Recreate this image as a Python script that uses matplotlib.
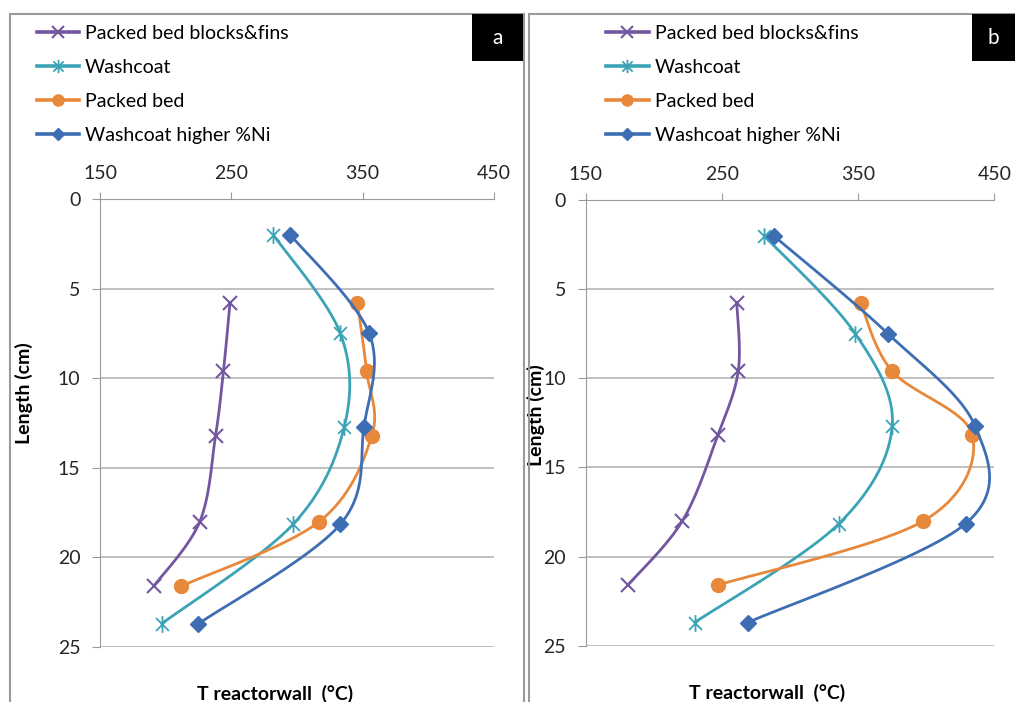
#importing modules
import numpy as np
from matplotlib import pyplot as plt
from matplotlib.path import Path
from matplotlib.patches import Rectangle

plt.rcParams['font.family'] = ['Lato', 'DejaVu Sans']

#reactor wall temperature profiles (deg C) vs length (cm)
labels = ['Packed bed blocks&fins', 'Washcoat', 'Packed bed', 'Washcoat higher %Ni']
len_bed = [5.8, 9.6, 13.2, 18.0, 21.6]
len_wash = [2.0, 7.5, 12.7, 18.15, 23.7]

T_fins_a = [249, 244, 238, 226, 191]
T_wash_a = [282, 333, 336, 297, 197]
T_bed_a = [346, 353, 357, 317, 212]
T_ni_a = [295, 355, 351, 333, 225]

T_fins_b = [261, 262, 247, 221, 181]
T_wash_b = [281, 348, 375, 336, 230]
T_bed_b = [352, 375, 434, 398, 247]
T_ni_b = [288, 372, 436, 429, 269]

colors = ['#7356a0', '#3aa3b5', '#e8883a', '#3d6eb4']

#star marker: an x with a vertical bar
star = Path([(-1, -1), (1, 1), (-1, 1), (1, -1), (0, -1.3), (0, 1.3)],
            [Path.MOVETO, Path.LINETO, Path.MOVETO, Path.LINETO, Path.MOVETO, Path.LINETO])
markers = [dict(marker='x', ms=10, mew=1.5),
           dict(marker=star, ms=12, mew=1.3),
           dict(marker='o', ms=10),
           dict(marker='D', ms=8)]


def smooth(x, y, sx, sy, n=30):
    #bezier smoothing between points, worked out in screen-like units
    px = np.asarray(x, float) * sx
    py = np.asarray(y, float) * sy
    P = np.column_stack([px, py])
    P = np.vstack([P[0], P, P[-1]])
    out = []
    t = np.linspace(0, 1, n)[:, None]
    for i in range(1, len(P) - 2):
        p0, p1, p2, p3 = P[i - 1], P[i], P[i + 1], P[i + 2]
        c1 = p1 + (p2 - p0) / 6
        c2 = p2 - (p3 - p1) / 6
        seg = ((1 - t) ** 3) * p1 + 3 * ((1 - t) ** 2) * t * c1 + 3 * (1 - t) * t ** 2 * c2 + t ** 3 * p2
        out.append(seg)
    out = np.vstack(out)
    return out[:, 0] / sx, out[:, 1] / sy


fig = plt.figure(figsize=(10.15, 7.02), dpi=100)

panels = [
    ('a', [0.0985, 0.0783, 0.3882, 0.6382], [T_fins_a, T_wash_a, T_bed_a, T_ni_a],
     (-0.17, 0.567), (0.036, 0.965)),
    ('b', [0.577, 0.0802, 0.4026, 0.6348], [T_fins_b, T_wash_b, T_bed_b, T_ni_b],
     (-0.10, 0.518), (0.597, 0.965)),
]

for tag, rect, series, ylab_pos, leg_pos in panels:
    ax = fig.add_axes(rect)
    ys = [len_bed, len_wash, len_bed, len_wash]
    for i, (T, L) in enumerate(zip(series, ys)):
        xs, yy = smooth(T, L, 1.315, 17.9)
        ax.plot(xs, yy, color=colors[i], lw=2.0, solid_capstyle='round')
        ax.plot(T, L, ls='none', color=colors[i], mfc=colors[i], mec=colors[i], **markers[i])
        ax.plot([], [], color=colors[i], lw=2.6, label=labels[i], **markers[i])
    ax.set_xlim(150, 450)
    ax.set_ylim(25, 0)
    ax.set_xticks([150, 250, 350, 450])
    ax.set_yticks([0, 5, 10, 15, 20, 25])
    ax.xaxis.tick_top()
    ax.tick_params(axis='x', direction='out', length=5, color='#9a9a9a', pad=7,
                   labelsize=14, labelcolor='#262626')
    ax.tick_params(axis='y', direction='out', length=6, color='#9a9a9a', pad=8,
                   labelsize=14, labelcolor='#262626')
    for s in ['right', 'bottom']:
        ax.spines[s].set_visible(False)
    for s in ['left', 'top']:
        ax.spines[s].set_color('#9a9a9a')
    ax.yaxis.grid(True, color='#b4b4b4', lw=1.2)
    ax.set_axisbelow(True)
    ax.set_ylabel('Length (cm)', fontsize=14, fontweight='bold')
    ax.yaxis.set_label_coords(*ylab_pos)
    ax.set_xlabel('T reactorwall  (°C)', fontsize=14, fontweight='bold')
    ax.xaxis.set_label_position('bottom')
    ax.xaxis.set_label_coords(0.444, -0.085)
    fig.legend(*ax.get_legend_handles_labels(), loc='upper left', bbox_to_anchor=leg_pos,
               frameon=False, fontsize=14, handlelength=2.2, handletextpad=0.3,
               labelspacing=0.88, borderaxespad=0, borderpad=0, markerscale=0.8)

#panel frames and tag boxes (pixel units)
W, H = 1015, 702
for x0, x1 in [(10, 524), (529, 1030)]:
    fig.add_artist(Rectangle((x0 / W, -0.05), (x1 - x0) / W, (H - 14) / H + 0.05,
                             transform=fig.transFigure, fill=False, ec='#9a9a9a', lw=1.5))
for tag, x0, x1 in [('a', 472, 523), ('b', 972, 1015)]:
    fig.add_artist(Rectangle((x0 / W, 1 - 61 / H), (x1 - x0) / W, 47 / H,
                             transform=fig.transFigure, fc='black', ec='none'))
    fig.text((x0 + x1) / 2 / W, 1 - 38 / H, tag, color='white', fontsize=15,
             ha='center', va='center')

#Saving the graph
plt.savefig('out.png', dpi=100)
